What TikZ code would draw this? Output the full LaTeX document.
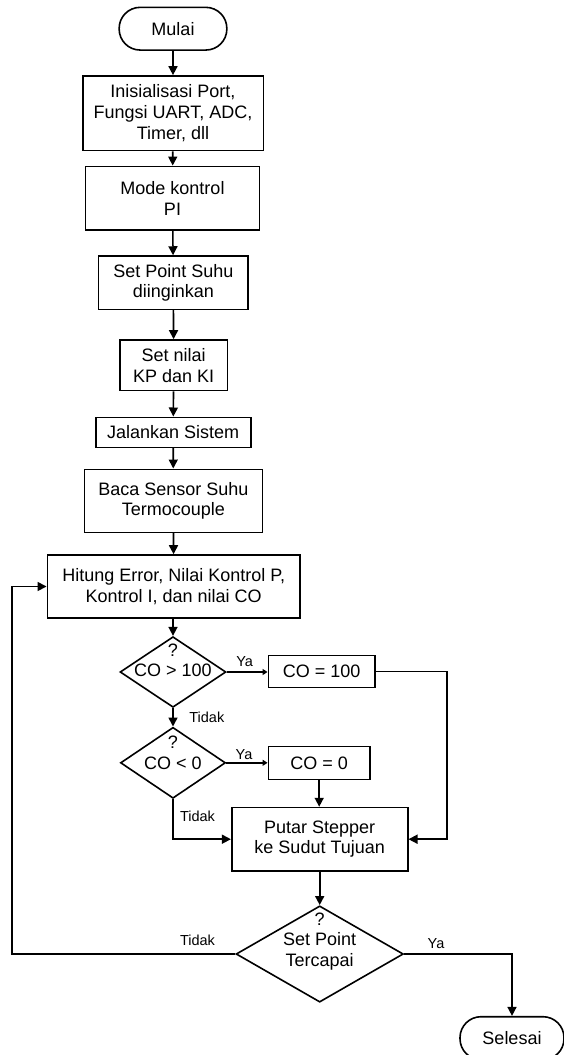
\documentclass[tikz,border=0pt]{standalone}
\usepackage{fontspec}
\setmainfont{Liberation Sans}
\usetikzlibrary{arrows.meta,shapes.geometric}
\begin{document}
\begin{tikzpicture}[x=1pt,y=-1pt,
  every node/.style={font=\fontsize{18}{20.7}\selectfont, align=center, inner sep=0pt},
  box/.style={draw, line width=1.6pt, rectangle},
  terminal/.style={draw, line width=1.6pt, rectangle, rounded corners=21pt},
  decision/.style={draw, line width=1.6pt, diamond},
  lab/.style={font=\fontsize{14.5}{16}\selectfont},
  arr/.style={line width=1.6pt, -{Triangle[length=9pt,width=9pt]}},
  sarr/.style={line width=1.6pt, -{Triangle[length=5pt,width=6pt]}}
]
\useasboundingbox (0,0) rectangle (563,1055);

\node[terminal, minimum width=107.7pt, minimum height=42.7pt] (mulai) at (173,28.7) {Mulai};
\node[box, minimum width=180.6pt, minimum height=74.7pt] (init) at (173,113.3) {Inisialisasi Port,\\Fungsi UART, ADC,\\Timer, dll};
\node[box, minimum width=173.7pt, minimum height=63.7pt] (mode) at (172.5,198.2) {Mode kontrol\\PI};
\node[box, minimum width=149.3pt, minimum height=53.3pt] (setpoint) at (173.3,282.7) {Set Point Suhu\\diinginkan};
\node[box, minimum width=107.3pt, minimum height=50.7pt] (setnilai) at (173.7,365.3) {Set nilai\\KP dan KI};
\node[box, minimum width=155pt, minimum height=30pt] (jalan) at (173.2,432.3) {Jalankan Sistem};
\node[box, minimum width=178pt, minimum height=63pt] (baca) at (173.3,500.8) {Baca Sensor Suhu\\Termocouple};
\node[box, minimum width=252.7pt, minimum height=63pt] (hitung) at (173.7,586.5) {Hitung Error, Nilai Kontrol P,\\Kontrol I, dan nilai CO};

\node[decision, minimum width=106pt, minimum height=70.7pt] (d1) at (173,672) {};
\node (d1t) at (173,660.4) {?\\CO > 100};
\node[box, minimum width=106.7pt, minimum height=31.7pt] (co100) at (321.7,671.5) {CO = 100};

\node[decision, minimum width=105pt, minimum height=71pt] (d2) at (173,762.8) {};
\node (d2t) at (173,753) {?\\CO < 0};
\node[box, minimum width=101.7pt, minimum height=32.7pt] (co0) at (319.2,763) {CO = 0};

\node[box, minimum width=176pt, minimum height=63.3pt] (putar) at (319.7,839.2) {Putar Stepper\\ke Sudut Tujuan};

\node[decision, minimum width=167.3pt, minimum height=96.3pt] (d3) at (319.7,954) {};
\node (d3t) at (319.7,941.5) {?\\Set Point\\Tercapai};

\node[terminal, minimum width=104pt, minimum height=43pt] (selesai) at (512,1038.2) {Selesai};

\coordinate (rt) at (446.7,0);
\coordinate (lt) at (11.7,0);

\draw[arr] (mulai) -- (init);
\draw[arr] (init) -- (mode);
\draw[arr] (mode) -- (setpoint);
\draw[arr] (setpoint) -- (setnilai);
\draw[arr] (setnilai) -- (jalan);
\draw[arr] (jalan) -- (baca);
\draw[arr] (baca) -- (hitung);
\draw[arr] (hitung.south -| d1.north) -- (d1.north);
\draw[arr] (d1.south) -- (d2.north);
\draw[sarr] (d1.east) -- (co100.west |- d1.east);
\draw[sarr] (d2.east) -- (co0.west |- d2.east);
\draw[arr] (co0) -- (putar.north -| co0.south);
\draw[arr] (co100.east) -| (rt |- putar.east) -- (putar.east);
\draw[arr] (d2.south) |- (putar.west);
\draw[arr] (putar) -- (d3);
\draw[arr] (d3.west) -| (lt |- hitung.west) -- (hitung.west);
\draw[arr] (d3.east) -| (selesai.north);

\node[lab] (ya1) at (244.7,661.7) {Ya};
\node[lab] (tidak1) at (206.8,717.3) {Tidak};
\node[lab] (ya2) at (244,755) {Ya};
\node[lab] (tidak2) at (197.5,816) {Tidak};
\node[lab] (tidak3) at (197.5,940) {Tidak};
\node[lab] (ya3) at (436,943.3) {Ya};
\end{tikzpicture}
\end{document}
